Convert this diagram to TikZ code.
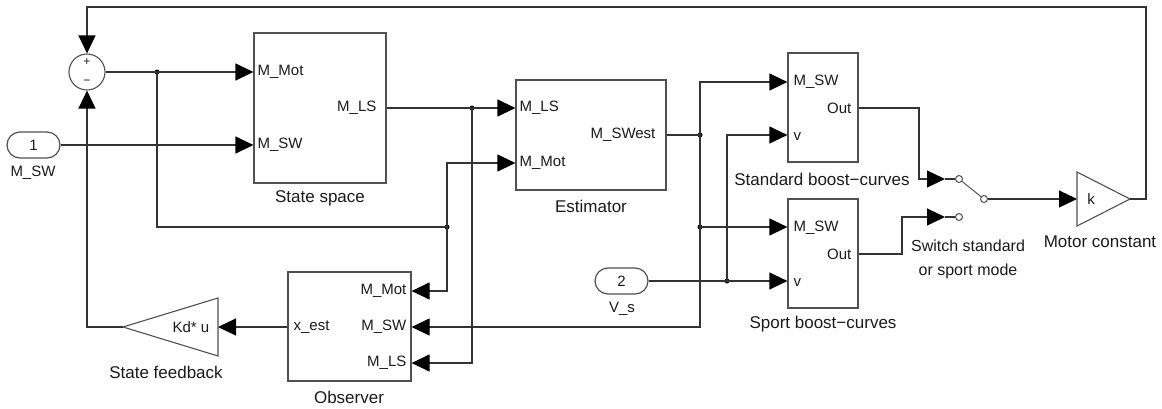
\documentclass[tikz,border=0pt]{standalone}
\usepackage{fontspec}
\setmainfont{Liberation Sans}
\usetikzlibrary{arrows.meta}
\definecolor{ln}{HTML}{333333}
\definecolor{bx}{HTML}{505050}
\definecolor{tx}{HTML}{1A1A1A}
\tikzset{
  wire/.style={draw=ln, line width=1.2pt},
  arr/.style={wire, -{Triangle[length=18pt,width=17pt,color=black]}},
  blk/.style={draw=bx, line width=1.2pt, rectangle, inner sep=0pt},
  inport/.style={draw=bx, line width=1.2pt, rounded corners=13pt, minimum width=53pt, minimum height=26pt, inner sep=0pt, text=tx, font=\fontsize{15}{17}\selectfont},
  plab/.style={inner sep=0pt, text=tx, font=\fontsize{15}{17}\selectfont},
  blab/.style={inner sep=0pt, text=tx, font=\fontsize{17}{19}\selectfont, align=center},
  dot/.style={circle, fill=black, inner sep=0pt, minimum size=5pt},
  contact/.style={circle, draw=bx, line width=1pt, fill=white, inner sep=0pt, minimum size=7pt},
}
\begin{document}
\begin{tikzpicture}[x=1pt, y=-1pt]
\useasboundingbox (0,0) rectangle (1162,408);

% blocks
\node[circle, draw=bx, line width=1.1pt, minimum size=36pt, inner sep=0pt] (sum) at (87,72) {};
\node[plab, font=\fontsize{12}{12}\selectfont] (plus) at (87,62) {+};
\node[plab, font=\fontsize{12}{12}\selectfont] (minus) at (87,82) {−};

\node[blk, minimum width=132pt, minimum height=150pt] (ss) at (320,108) {};
\node[blk, minimum width=150pt, minimum height=110pt] (est) at (591,135) {};
\node[blk, minimum width=123pt, minimum height=109pt] (obs) at (349.5,326.5) {};
\node[blk, minimum width=70pt, minimum height=109pt] (std) at (823,107.5) {};
\node[blk, minimum width=70pt, minimum height=109pt] (spt) at (823,253.5) {};

\node[inport] (in1) at (33.5,145) {1};
\node[inport] (in2) at (621.5,281) {2};

% gains
\draw[draw=bx, line width=1.1pt] (218,298) -- (123,327) -- (218,356) -- cycle;
\coordinate (kdtip) at (123,327);
\coordinate (kdin) at (218,327);
\node[plab] (kdtxt) at (191,327) {Kd* u};

\draw[draw=bx, line width=1.1pt] (1077,172) -- (1130,199) -- (1077,226) -- cycle;
\coordinate (ktip) at (1130,199);
\coordinate (kin) at (1077,199);
\node[plab] (ktxt) at (1091,199) {k};

% switch
\node[contact] (sw1) at (959,179) {};
\node[contact] (sw2) at (959,217) {};
\node[contact] (swo) at (984,199) {};
\draw[draw=bx, line width=1pt] (sw1) -- (swo);

% port labels
\node[plab, anchor=west] (ssa) at ([xshift=4pt]ss.west |- 0,72) {M\_Mot};
\node[plab, anchor=west] (ssb) at ([xshift=4pt]ss.west |- 0,145) {M\_SW};
\node[plab, anchor=east] (ssc) at ([xshift=-10pt]ss.east |- 0,108) {M\_LS};

\node[plab, anchor=west] (esa) at ([xshift=4pt]est.west |- 0,108) {M\_LS};
\node[plab, anchor=west] (esb) at ([xshift=4pt]est.west |- 0,163) {M\_Mot};
\node[plab, anchor=east] (esc) at ([xshift=-11pt]est.east |- 0,135) {M\_SWest};

\node[plab, anchor=east] (oba) at ([xshift=-5pt]obs.east |- 0,291) {M\_Mot};
\node[plab, anchor=east] (obb) at ([xshift=-5pt]obs.east |- 0,327) {M\_SW};
\node[plab, anchor=east] (obc) at ([xshift=-5pt]obs.east |- 0,363) {M\_LS};
\node[plab, anchor=west] (obd) at ([xshift=6pt]obs.west |- 0,327) {x\_est};

\node[plab, anchor=west] (sta) at ([xshift=6pt]std.west |- 0,82) {M\_SW};
\node[plab, anchor=east] (stb) at ([xshift=-7pt]std.east |- 0,108) {Out};
\node[plab, anchor=west] (stc) at ([xshift=6pt]std.west |- 0,137) {v};

\node[plab, anchor=west] (spa) at ([xshift=6pt]spt.west |- 0,228) {M\_SW};
\node[plab, anchor=east] (spb) at ([xshift=-7pt]spt.east |- 0,254) {Out};
\node[plab, anchor=west] (spc) at ([xshift=6pt]spt.west |- 0,283) {v};

% block labels
\node[plab] (in1lab) at (33,173) {M\_SW};
\node[plab] (in2lab) at (622,309) {V\_s};
\node[blab] (sslab) at (320,198) {State space};
\node[blab] (eslab) at (591,206) {Estimator};
\node[blab] (oblab) at (349,397) {Observer};
\node[blab] (kdlab) at (166,372) {State feedback};
\node[blab] (stlab) at (822,179) {Standard boost−curves};
\node[blab] (splab) at (823,324) {Sport boost−curves};
\node[blab, font=\fontsize{16}{24}\selectfont] (swlab) at (968,259) {Switch standard\\or sport mode};
\node[blab] (klab) at (1100,242) {Motor constant};

% junctions
\node[dot] (j1) at (157,72) {};
\node[dot] (j2) at (447,227) {};
\node[dot] (j3) at (472,108) {};
\node[dot] (j4) at (700,135) {};
\node[dot] (j5) at (700,227) {};
\node[dot] (j6) at (727,281) {};

% wires
\draw[arr] (ktip) -- (1146,199) -- (1146,7) -- (87,7) -- (sum.north);
\draw[arr] (kdtip) -- (87,327) -- (sum.south);
\draw[arr] (sum.east) -- (j1.center) -- (ss.west |- 0,72);
\draw[wire] (j1.center) -- (157,227) -- (j2.center);
\draw[arr] (j2.center) |- (est.west |- 0,163);
\draw[arr] (j2.center) |- (obs.east |- 0,291);
\draw[arr] (in1.east) -- (ss.west |- 0,145);
\draw[arr] (ss.east |- 0,108) -- (j3.center) -- (est.west |- 0,108);
\draw[arr] (j3.center) |- (obs.east |- 0,363);
\draw[wire] (est.east |- 0,135) -- (j4.center);
\draw[arr] (j4.center) |- (std.west |- 0,82);
\draw[wire] (j4.center) -- (j5.center);
\draw[arr] (j5.center) -- (spt.west |- 0,227);
\draw[arr] (j5.center) |- (obs.east |- 0,327);
\draw[wire] (in2.east) -- (j6.center);
\draw[arr] (j6.center) -- (spt.west |- 0,281);
\draw[arr] (j6.center) |- (std.west |- 0,135);
\draw[arr] (std.east |- 0,108) -- (919,108) -- (919,179) -- (945,179);
\draw[wire] (945,179) -- (sw1.west);
\draw[arr] (spt.east |- 0,254) -- (902,254) -- (902,217) -- (945,217);
\draw[wire] (945,217) -- (sw2.west);
\draw[arr] (swo.east) -- (kin);
\draw[arr] (obs.west |- 0,327) -- (kdin);
\end{tikzpicture}
\end{document}
